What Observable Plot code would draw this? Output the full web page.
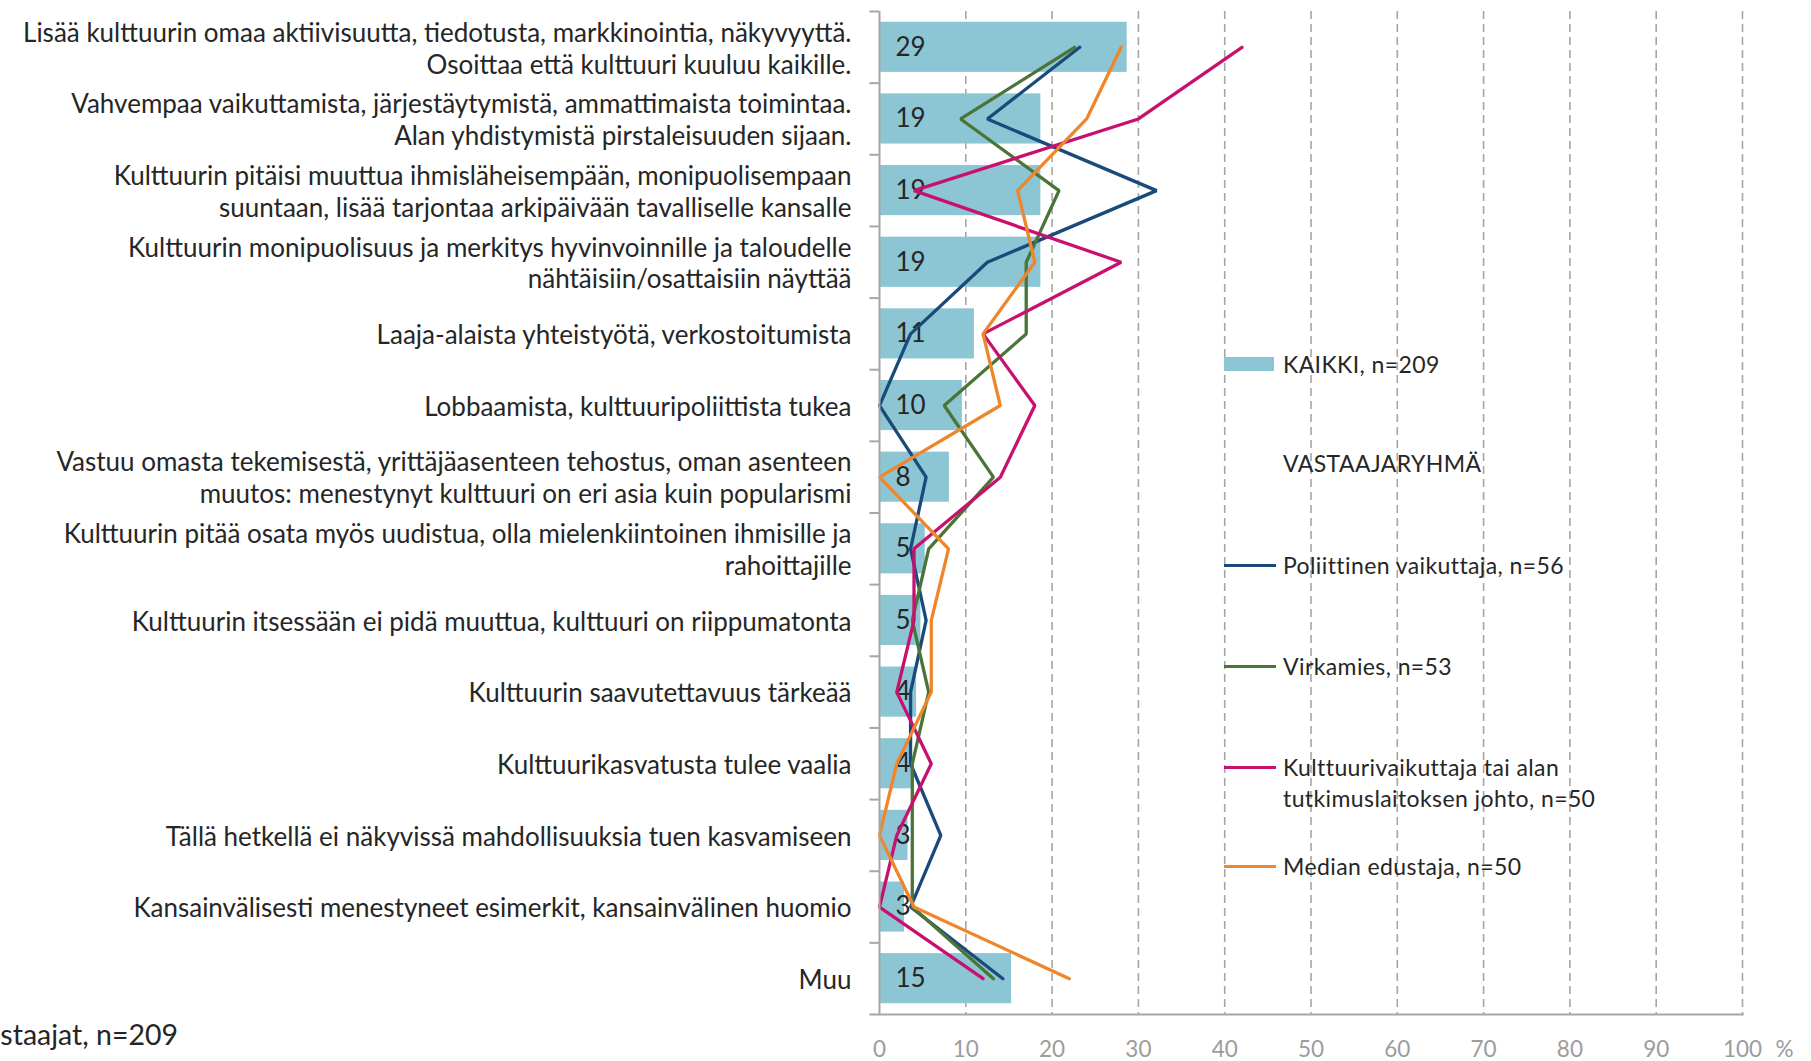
<!DOCTYPE html>
<html><head><meta charset="utf-8">
<script src="https://cdn.jsdelivr.net/npm/d3@7"></script>
<script src="https://cdn.jsdelivr.net/npm/@observablehq/plot@0.6"></script>
<style>
body{margin:0;background:#fff;overflow:hidden;font-family:Lato,sans-serif;}
#wrap{position:relative;width:1811px;height:1061px;background:#fff;}
.leg{position:absolute;left:1224px;font-size:23px;color:#262626;line-height:31px;white-space:nowrap;letter-spacing:0.4px;}
.leg .sw{position:absolute;left:0;}
.leg .tx{position:absolute;left:59px;top:0;transform:translateY(-50%);}
#caption{position:absolute;left:-31px;top:1017px;font-size:28.5px;line-height:34px;color:#262626;white-space:nowrap;}
</style></head><body><div id="wrap"></div>
<script>
// ---- data ----
const categories = [
  "Lisää kulttuurin omaa aktiivisuutta, tiedotusta, markkinointia, näkyvyyttä.\nOsoittaa että kulttuuri kuuluu kaikille.",
  "Vahvempaa vaikuttamista, järjestäytymistä, ammattimaista toimintaa.\nAlan yhdistymistä pirstaleisuuden sijaan.",
  "Kulttuurin pitäisi muuttua ihmisläheisempään, monipuolisempaan\nsuuntaan, lisää tarjontaa arkipäivään tavalliselle kansalle",
  "Kulttuurin monipuolisuus ja merkitys hyvinvoinnille ja taloudelle\nnähtäisiin/osattaisiin näyttää",
  "Laaja-alaista yhteistyötä, verkostoitumista",
  "Lobbaamista, kulttuuripoliittista tukea",
  "Vastuu omasta tekemisestä, yrittäjäasenteen tehostus, oman asenteen\nmuutos: menestynyt kulttuuri on eri asia kuin popularismi",
  "Kulttuurin pitää osata myös uudistua, olla mielenkiintoinen ihmisille ja\nrahoittajille",
  "Kulttuurin itsessään ei pidä muuttua, kulttuuri on riippumatonta",
  "Kulttuurin saavutettavuus tärkeää",
  "Kulttuurikasvatusta tulee vaalia",
  "Tällä hetkellä ei näkyvissä mahdollisuuksia tuen kasvamiseen",
  "Kansainvälisesti menestyneet esimerkit, kansainvälinen huomio",
  "Muu"
];
const kaikki      = [28.7, 18.7, 18.7, 18.7, 11.0, 9.6, 8.1, 5.3, 4.8, 4.3, 3.8, 3.3, 2.9, 15.3];
const poliittinen = [23.2, 12.5, 32.1, 12.5, 3.6, 0, 5.4, 3.6, 5.4, 3.6, 3.6, 7.1, 3.6, 14.3];
const virkamies   = [22.6, 9.4, 20.8, 17.0, 17.0, 7.5, 13.2, 5.7, 3.8, 5.7, 3.8, 3.8, 3.8, 13.2];
const kulttuuri   = [42, 30, 4, 28, 12, 18, 14, 4, 4, 2, 6, 2, 0, 12];
const median      = [28, 24, 16, 18, 12, 14, 0, 8, 6, 6, 2, 0, 4, 22];
const xTicks = [0, 10, 20, 30, 40, 50, 60, 70, 80, 90, 100];
const gridTicks = [10, 20, 30, 40, 50, 60, 70, 80, 90, 100];
const barLegend = "KAIKKI, n=209";
const groupTitle = "VASTAAJARYHMÄ";
const seriesNames = ["Poliittinen vaikuttaja, n=56", "Virkamies, n=53", "Kulttuurivaikuttaja tai alan\ntutkimuslaitoksen johto, n=50", "Median edustaja, n=50"];
const caption = "Vastaajat, n=209";
const unitLabel = "%";

// ---- style ----
const barColor = "#8CC6D4";
const seriesColors = ["#1A4A7A", "#4B7437", "#C8116F", "#F0862C"];
const gray = "#a6a6a6";
const textColor = "#262626";

const W = 1811, H = 1061, mL = 879, mR = 69, mT = 11, mB = 47;
const step = (H - mT - mB) / categories.length;

const rows = categories.map((c, i) => ({cat: c, v: kaikki[i]}));
const seriesVals = [poliittinen, virkamies, kulttuuri, median];
const lineMarks = seriesVals.map((vals, k) =>
  Plot.line(categories.map((c, i) => ({cat: c, v: vals[i]})), {x: "v", y: "cat", stroke: seriesColors[k], strokeWidth: 3.3, strokeLinejoin: "miter"})
);

const chart = Plot.plot({
  width: W, height: H,
  marginLeft: mL, marginRight: mR, marginTop: mT, marginBottom: mB,
  style: {fontFamily: "Lato, sans-serif", background: "white", overflow: "visible"},
  x: {domain: [0, 100], axis: null},
  y: {domain: categories, axis: null, paddingInner: 0.3, paddingOuter: 0.15, round: false},
  marks: [
    Plot.ruleX(gridTicks, {stroke: gray, strokeWidth: 1.6, strokeDasharray: "8,5"}),
    Plot.barX(rows, {x: "v", y: "cat", fill: barColor}),
    Plot.text(rows, {x: d => 0, y: "cat", text: d => d3.format(".0f")(d.v), textAnchor: "start", dx: 16, fontSize: 26, fill: textColor}),
    ...lineMarks,
    Plot.ruleX([0], {stroke: gray, strokeWidth: 2}),
    Plot.ruleY(categories, {y: d => d, x1: -1.1, x2: 0, dy: -step / 2, stroke: gray, strokeWidth: 2}),
    Plot.ruleY([categories[categories.length - 1]], {y: d => d, x1: -1.1, x2: 100.2, dy: step / 2, stroke: gray, strokeWidth: 2}),
    Plot.text(xTicks, {x: d => d, frameAnchor: "bottom", dy: 42, fontSize: 22.5, fill: "#9c9c9c", text: d => String(d)}),
    Plot.text([unitLabel], {frameAnchor: "bottom-right", dx: 51, dy: 42, fontSize: 22.5, fill: "#9c9c9c", text: d => d}),
    Plot.text(categories, {x: d => 0, y: d => d, text: d => d, textAnchor: "end", dx: -28, fontSize: 26, lineHeight: 1.23, fill: textColor, ariaLabel: "ylabels"})
  ]
});

const wrap = document.getElementById("wrap");
wrap.appendChild(chart);

// center lines of multi-line labels within their right-aligned block (Excel style)
chart.querySelectorAll('g[aria-label="ylabels"] text').forEach(t => {
  const sp = t.querySelectorAll("tspan");
  if (sp.length < 2) return;
  let w = 0;
  sp.forEach(s => { w = Math.max(w, s.getComputedTextLength()); });
  t.setAttribute("text-anchor", "middle");
  sp.forEach(s => s.setAttribute("x", -w / 2));
});

// legend
function legItem(y, label, swatch) {
  const d = document.createElement("div");
  d.className = "leg";
  d.style.top = y + "px";
  if (swatch) {
    const s = document.createElement("div");
    s.className = "sw";
    Object.assign(s.style, swatch);
    d.appendChild(s);
  }
  const tx = document.createElement("div");
  tx.className = "tx";
  tx.innerHTML = label.split("\n").join("<br>");
  if (label.includes("\n")) tx.style.transform = "translateY(-15px)";
  d.appendChild(tx);
  wrap.appendChild(d);
}
legItem(364, barLegend, {top: "-7px", width: "50px", height: "14px", background: barColor});
legItem(463, groupTitle, null);
const legY = [565, 666, 767, 866];
seriesNames.forEach((n, k) => legItem(legY[k], n, {top: "-1.5px", width: "52px", height: "3px", background: seriesColors[k]}));

const cap = document.createElement("div");
cap.id = "caption";
cap.textContent = caption;
wrap.appendChild(cap);
</script></body></html>
